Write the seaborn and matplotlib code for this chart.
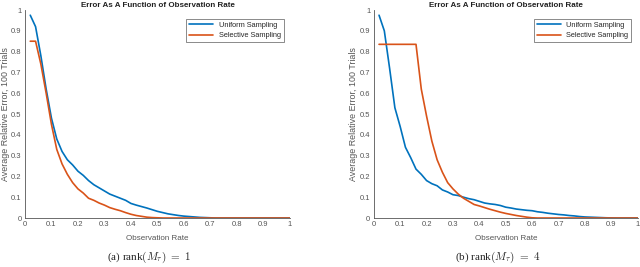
import numpy as np
import pandas as pd
import matplotlib
matplotlib.use("Agg")
import matplotlib.pyplot as plt
import seaborn as sns

# observation rates 0.02 .. 1.00
rate = [round(0.02 * i, 2) for i in range(1, 51)]

# (a) rank = 1
uniform_a = [0.975, 0.92, 0.78, 0.62, 0.48, 0.38, 0.32, 0.28, 0.255, 0.225,
             0.205, 0.18, 0.16, 0.145, 0.13, 0.115, 0.105, 0.095, 0.085, 0.07,
             0.062, 0.055, 0.048, 0.04, 0.032, 0.026, 0.02, 0.016, 0.012, 0.009,
             0.007, 0.005, 0.003, 0.002, 0.001, 0.0, 0.0, 0.0, 0.0, 0.0,
             0.0, 0.0, 0.0, 0.0, 0.0, 0.0, 0.0, 0.0, 0.0, 0.0]
selective_a = [0.85, 0.85, 0.74, 0.6, 0.45, 0.33, 0.26, 0.21, 0.17, 0.14,
               0.12, 0.095, 0.085, 0.072, 0.062, 0.05, 0.042, 0.035, 0.026, 0.018,
               0.012, 0.008, 0.004, 0.002, 0.001, 0.0, 0.0, 0.0, 0.0, 0.0,
               0.0, 0.0, 0.0, 0.0, 0.0, 0.0, 0.0, 0.0, 0.0, 0.0,
               0.0, 0.0, 0.0, 0.0, 0.0, 0.0, 0.0, 0.0, 0.0, 0.0]

# (b) rank = 4
uniform_b = [0.975, 0.9, 0.72, 0.53, 0.44, 0.34, 0.29, 0.235, 0.21, 0.18,
             0.165, 0.155, 0.135, 0.125, 0.112, 0.108, 0.1, 0.093, 0.088, 0.08,
             0.072, 0.068, 0.065, 0.06, 0.052, 0.048, 0.043, 0.04, 0.037, 0.035,
             0.03, 0.027, 0.023, 0.02, 0.017, 0.015, 0.012, 0.01, 0.007, 0.005,
             0.004, 0.003, 0.002, 0.001, 0.0005, 0.0, 0.0, 0.0, 0.0, 0.0]
selective_b = [0.835, 0.835, 0.835, 0.835, 0.835, 0.835, 0.835, 0.835, 0.62, 0.49,
               0.37, 0.28, 0.22, 0.17, 0.14, 0.115, 0.095, 0.08, 0.065, 0.058,
               0.05, 0.042, 0.035, 0.028, 0.022, 0.017, 0.012, 0.008, 0.004, 0.001,
               0.0, 0.0, 0.0, 0.0, 0.0, 0.0, 0.0, 0.0, 0.0, 0.0,
               0.0, 0.0, 0.0, 0.0, 0.0, 0.0, 0.0, 0.0, 0.0, 0.0]

captions = [r"(a) rank$(M_\tau)\ =\ 1$", r"(b) rank$(M_\tau)\ =\ 4$"]
series = ["Uniform Sampling", "Selective Sampling"]
colors = {"Uniform Sampling": "#0072BD", "Selective Sampling": "#D95319"}
ticklabels = ["0", "0.1", "0.2", "0.3", "0.4", "0.5", "0.6", "0.7", "0.8", "0.9", "1"]

sns.set_style("white")
plt.rcParams["font.family"] = ["Liberation Sans", "DejaVu Sans"]
plt.rcParams["mathtext.fontset"] = "cm"

fig = plt.figure(figsize=(6.4, 2.67), dpi=100)
axes = [fig.add_axes([0.039, 0.1835, 0.414, 0.779]),
        fig.add_axes([0.584, 0.1835, 0.4125, 0.779])]

grey = "#555555"
for ax, (u, s), cap in zip(axes, [(uniform_a, selective_a), (uniform_b, selective_b)], captions):
    df = pd.DataFrame({
        "rate": rate * 2,
        "err": u + s,
        "method": [series[0]] * len(rate) + [series[1]] * len(rate),
    })
    sns.lineplot(data=df, x="rate", y="err", hue="method", palette=colors,
                 linewidth=1.2, ax=ax)
    ax.set_xlim(0, 1)
    ax.set_ylim(0, 1)
    ax.set_xticks(np.arange(0, 1.01, 0.1))
    ax.set_yticks(np.arange(0, 1.01, 0.1))
    ax.set_xticklabels(ticklabels)
    ax.set_yticklabels(ticklabels)
    ax.tick_params(direction="in", length=2, width=0.5, labelsize=5.5, colors=grey, pad=2.5)
    for side in ["top", "right"]:
        ax.spines[side].set_visible(False)
    for side in ["left", "bottom"]:
        ax.spines[side].set_color(grey)
        ax.spines[side].set_linewidth(0.6)
    ax.set_xlabel("Observation Rate", fontsize=5.8, color=grey, labelpad=5)
    ax.set_ylabel("Average Relative Error, 100 Trials", fontsize=6.4, color=grey, labelpad=1)
    ax.set_title("Error As A Function of Observation Rate", fontsize=5.8,
                 fontweight="bold", color="#222222", pad=2)
    leg = ax.legend(loc="upper right", fontsize=5.3, frameon=True, fancybox=False,
                    handlelength=3.2, borderpad=0.4, labelspacing=0.45,
                    bbox_to_anchor=(0.99, 0.975))
    leg.get_frame().set_edgecolor(grey)
    leg.get_frame().set_linewidth(0.6)
    fig.text(ax.get_position().x0 + ax.get_position().width * 0.47, 0.035, cap,
             ha="center", va="center", fontsize=8,
             family=["Liberation Serif", "DejaVu Serif"])

fig.savefig("out.png", dpi=100)
